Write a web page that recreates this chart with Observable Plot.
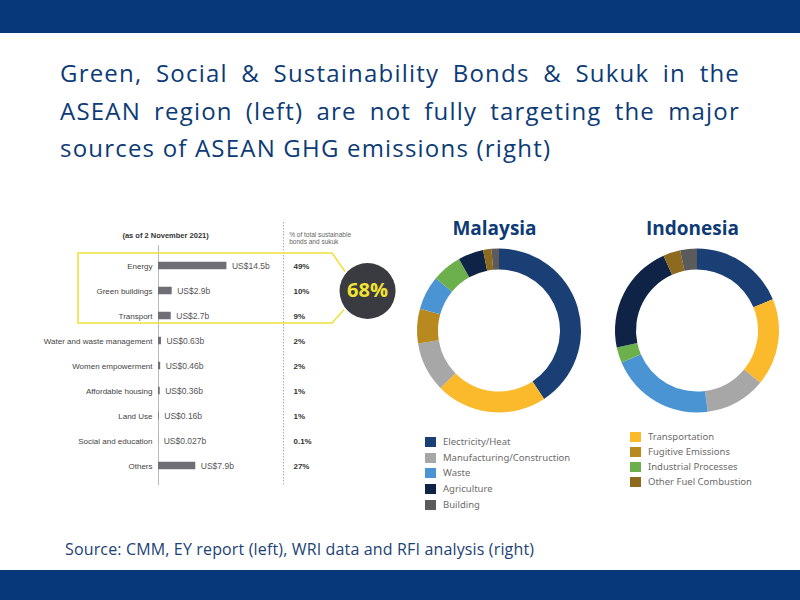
<!DOCTYPE html>
<html><head><meta charset="utf-8">
<script src="https://cdn.jsdelivr.net/npm/d3@7"></script>
<script src="https://cdn.jsdelivr.net/npm/@observablehq/plot@0.6"></script>
<style>
body{margin:0;width:800px;height:600px;position:relative;overflow:hidden;background:#fff;font-family:"Open Sans",sans-serif}
.band{position:absolute;left:0;width:800px;background:#06387a}
#title{position:absolute;left:60px;top:54px;width:680px;color:#0d3b76;font-size:24px;line-height:37.5px;font-weight:500;letter-spacing:1.2px}
#title .j{text-align:justify;text-align-last:justify}
#source{position:absolute;left:65px;top:539px;font-size:16px;line-height:20px;color:#1c4276;letter-spacing:0.15px}
#bars{position:absolute;left:0;top:215px}
#donuts{position:absolute;left:400px;top:205px}
.lg{position:absolute;font-family:"Noto Sans",sans-serif;font-size:9.5px;line-height:12px;color:#6b6b6b;white-space:nowrap}
.sw{position:absolute;width:11px;height:10px}
</style></head>
<body>
<div class="band" style="top:0;height:33px"></div>
<div class="band" style="top:570px;height:30px"></div>
<div id="title">
<div class="j">Green, Social &amp; Sustainability Bonds &amp; Sukuk in the</div>
<div class="j">ASEAN region (left) are not fully targeting the major</div>
<div>sources of ASEAN GHG emissions (right)</div>
</div>
<div id="bars"></div>
<div id="donuts"></div>
<div id="legend"></div>
<div id="source">Source: CMM, EY report (left), WRI data and RFI analysis (right)</div>
<script>
// ---- Left: bonds & sukuk by use of proceeds ----
const categories = ["Energy","Green buildings","Transport","Water and waste management","Women empowerment","Affordable housing","Land Use","Social and education","Others"];
const amounts = [14.5, 2.9, 2.7, 0.63, 0.46, 0.36, 0.16, 0.027, 7.9];
const amountLabels = ["US$14.5b","US$2.9b","US$2.7b","US$0.63b","US$0.46b","US$0.36b","US$0.16b","US$0.027b","US$7.9b"];
const shareLabels = ["49%","10%","9%","2%","2%","1%","1%","0.1%","27%"];
const highlightShare = "68%";
const asOfLabel = "(as of 2 November 2021)";
const shareHeader = ["% of total sustainable","bonds and sukuk"];

// ---- Right: GHG emissions by sector ----
const sectors = ["Electricity/Heat","Manufacturing/Construction","Waste","Agriculture","Building","Transportation","Fugitive Emissions","Industrial Processes","Other Fuel Combustion"];
const sectorColors = ["#1a3f74","#a7a7a7","#4b94d3","#0f2347","#5b5b5b","#fbba2b","#b8891f","#6cb04d","#8d6a1d"];
const countries = ["Malaysia","Indonesia"];
const malaysiaSectors = ["Electricity/Heat","Transportation","Manufacturing/Construction","Fugitive Emissions","Waste","Industrial Processes","Agriculture","Other Fuel Combustion","Building"];
const malaysiaShares = [40.7, 21.9, 9.8, 6.8, 6.7, 5.9, 5.0, 1.6, 1.5];
const indonesiaSectors = ["Electricity/Heat","Transportation","Manufacturing/Construction","Waste","Industrial Processes","Agriculture","Other Fuel Combustion","Building"];
const indonesiaShares = [18.8, 17.2, 11.9, 20.7, 3.1, 21.6, 3.4, 3.3];
const legendCol1 = ["Electricity/Heat","Manufacturing/Construction","Waste","Agriculture","Building"];
const legendCol2 = ["Transportation","Fugitive Emissions","Industrial Processes","Other Fuel Combustion"];

const bw = s => typeof s.bandwidth === "function" ? s.bandwidth() : (s.bandwidth || 0);

const rows = categories.map((c, i) => ({category: c, amount: amounts[i], label: amountLabels[i], share: shareLabels[i]}));
const PCT_X = 28.6, DASH_X = 26.5, CIRCLE_X = 44.3, HEAD_X = 1.5, SHARE_HEAD_X = 27.7;

function highlight(index, scales) {
  const b = bw(scales.y);
  const top = scales.y(categories[0]);
  const bot = scales.y(categories[2]) + b - 5;
  const cx = scales.x(CIRCLE_X), cy = scales.y(categories[1]) + b / 2;
  const left = 78;
  const p = d3.path();
  p.moveTo(cx - 22, cy - 19); p.lineTo(cx - 35, top); p.lineTo(left, top);
  p.lineTo(left, bot); p.lineTo(cx - 35, bot); p.lineTo(cx - 23, cy + 19);
  const el = document.createElementNS("http://www.w3.org/2000/svg", "path");
  el.setAttribute("d", p.toString());
  el.setAttribute("fill", "none");
  el.setAttribute("stroke", "#f0e03c");
  el.setAttribute("stroke-width", "1.6");
  return el;
}

const barPlot = Plot.plot({
  width: 410, height: 285,
  marginLeft: 158, marginRight: 0, marginTop: 36, marginBottom: 19.5,
  x: {domain: [0, 53.4], axis: null},
  y: {domain: categories, padding: 0, axis: null},
  style: {background: "transparent", overflow: "visible", fontFamily: "'Liberation Sans', sans-serif"},
  marks: [
    Plot.ruleX([DASH_X], {stroke: "#aaa", strokeDasharray: "1.5,1.5", insetTop: -29, insetBottom: -4.5}),
    Plot.ruleX([0], {stroke: "#bbb", insetTop: -6, insetBottom: -4.5}),
    highlight,
    Plot.barX(rows, {x: "amount", y: "category", fill: "#6e6e74", insetTop: 8.75, insetBottom: 8.75}),
    Plot.text(rows, {x: () => 0, y: "category", text: "category", textAnchor: "end", dx: -6, fontSize: 8, fill: "#444"}),
    Plot.text(rows, {x: "amount", y: "category", text: "label", textAnchor: "start", dx: 5, fontSize: 8.5, fill: "#555"}),
    Plot.text(rows, {x: () => PCT_X, y: "category", text: "share", textAnchor: "start", fontSize: 8, fontWeight: "bold", fill: "#333"}),
    Plot.text([asOfLabel], {x: () => HEAD_X, frameAnchor: "top", lineAnchor: "middle", dy: -16, text: d => d, fontSize: 7.5, fontWeight: "bold", fill: "#333"}),
    Plot.text([shareHeader[0]], {x: () => SHARE_HEAD_X, frameAnchor: "top", lineAnchor: "middle", dy: -17, text: d => d, textAnchor: "start", fontSize: 6.5, fill: "#666"}),
    Plot.text([shareHeader[1]], {x: () => SHARE_HEAD_X, frameAnchor: "top", lineAnchor: "middle", dy: -10, text: d => d, textAnchor: "start", fontSize: 6.5, fill: "#666"}),
    Plot.dot([highlightShare], {x: () => CIRCLE_X, y: () => categories[1], r: 28, fill: "#3a3b40", stroke: "none"}),
    Plot.text([highlightShare], {x: () => CIRCLE_X, y: () => categories[1], text: d => d, fontSize: 20, fontWeight: "bold", fill: "#f2e233", fontFamily: "'Open Sans', sans-serif"})
  ]
});
document.getElementById("bars").append(barPlot);

// ---- donuts ----
const color = Plot.scale({color: {type: "ordinal", domain: sectors, range: sectorColors}});
function donutMark(country, names, values) {
  return (index, scales, vals, dims) => {
    const cx = scales.x(country);
    const cy = dims.marginTop + (dims.height - dims.marginTop - dims.marginBottom) / 2;
    const data = names.map((n, i) => ({sector: n, value: values[i]}));
    const pie = d3.pie().sort(null).value(d => d.value);
    const arc = d3.arc().innerRadius(61).outerRadius(82);
    const g = d3.create("svg:g").attr("transform", `translate(${cx},${cy})`);
    g.selectAll("path").data(pie(data)).join("path")
      .attr("d", arc)
      .attr("fill", d => color.apply(d.data.sector));
    return g.node();
  };
}
const donutPlot = Plot.plot({
  width: 400, height: 215,
  marginLeft: 0, marginRight: 4, marginTop: 40, marginBottom: 4,
  x: {type: "point", domain: countries, padding: 0.5, axis: null},
  style: {background: "transparent", overflow: "visible", fontFamily: "'Open Sans', sans-serif"},
  marks: [
    donutMark("Malaysia", malaysiaSectors, malaysiaShares),
    donutMark("Indonesia", indonesiaSectors, indonesiaShares),
    Plot.text(countries, {x: d => d, frameAnchor: "top", lineAnchor: "middle", dy: -17, dx: -5, text: d => d, fontSize: 19, fontWeight: "bold", fill: "#0d3b76"})
  ]
});
document.getElementById("donuts").append(donutPlot);

// ---- legend ----
const legend = document.getElementById("legend");
function addLegend(items, swX, txtX, y0, step) {
  items.forEach((name, i) => {
    const cy = y0 + i * step;
    const sw = document.createElement("div");
    sw.className = "sw";
    sw.style.left = swX + "px"; sw.style.top = (cy - 5) + "px";
    sw.style.background = color.apply(name);
    const t = document.createElement("div");
    t.className = "lg";
    t.style.left = txtX + "px"; t.style.top = (cy - 6) + "px";
    t.textContent = name;
    legend.append(sw, t);
  });
}
addLegend(legendCol1, 425, 443, 442, 15.7);
addLegend(legendCol2, 630, 648, 437, 15);
</script>
</body></html>
